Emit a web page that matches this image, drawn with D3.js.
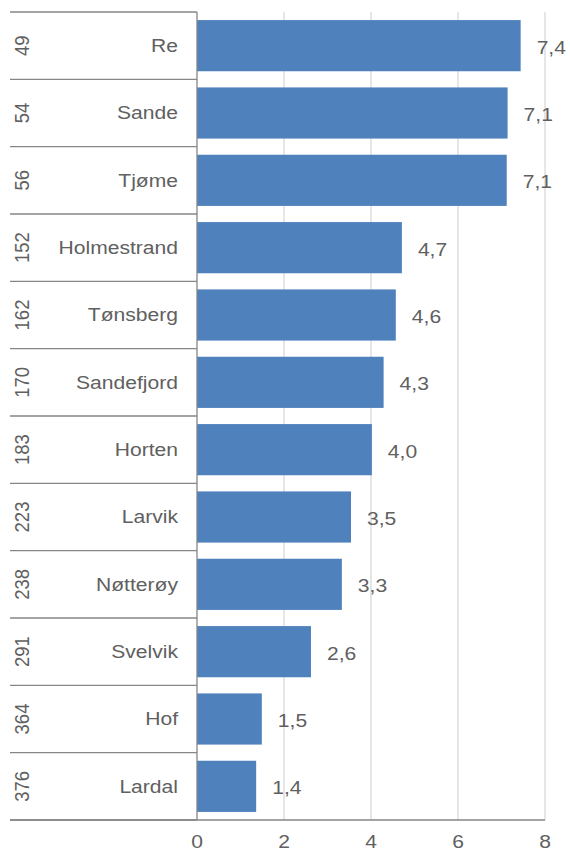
<!DOCTYPE html>
<html><head><meta charset="utf-8">
<script src="https://cdn.jsdelivr.net/npm/d3@7"></script>
<style>body{margin:0;background:#fff}svg{display:block;font-family:"Liberation Sans",Arial,sans-serif}</style>
</head><body>
<script>
const categories = ["Re","Sande","Tjøme","Holmestrand","Tønsberg","Sandefjord","Horten","Larvik","Nøtterøy","Svelvik","Hof","Lardal"];
const ranks = ["49","54","56","152","162","170","183","223","238","291","364","376"];
const values = [7.44,7.14,7.12,4.71,4.57,4.29,4.02,3.54,3.33,2.62,1.49,1.36];
const xTicks = [0,2,4,6,8];

(function(){
const W=570,H=852;
const svg=d3.select("body").append("svg").attr("width",W).attr("height",H);
const mLeft=197, mRight=545, mTop=12, mBottom=820, outerLeft=10;
const sx=1.14, fs=18.5, col="#606060";
const x=d3.scaleLinear().domain([0,8]).range([mLeft,mRight]);
const y=d3.scaleBand().domain(categories).range([mTop,mBottom]).paddingInner(0.24).paddingOuter(0.12);
const step=(mBottom-mTop)/categories.length;

svg.append("g").selectAll("line").data(xTicks.slice(1)).join("line")
 .attr("x1",d=>x(d)).attr("x2",d=>x(d)).attr("y1",mTop).attr("y2",mBottom)
 .attr("stroke","#d9d9d9").attr("stroke-width",1.3);

svg.append("g").selectAll("rect").data(values).join("rect")
 .attr("x",x(0)).attr("y",(d,i)=>y(categories[i])).attr("width",d=>x(d)-x(0)).attr("height",y.bandwidth())
 .attr("fill","#4f81bd");

svg.append("g").selectAll("line").data(d3.range(categories.length+1)).join("line")
 .attr("x1",outerLeft).attr("x2",mLeft).attr("y1",i=>mTop+i*step).attr("y2",i=>mTop+i*step)
 .attr("stroke","#868686").attr("stroke-width",1.3);

svg.append("line").attr("x1",mLeft).attr("x2",mLeft).attr("y1",mTop).attr("y2",mBottom).attr("stroke","#868686").attr("stroke-width",1.3);
svg.append("line").attr("x1",outerLeft).attr("x2",mRight).attr("y1",mBottom).attr("y2",mBottom).attr("stroke","#868686").attr("stroke-width",1.3);

svg.append("g").selectAll("text").data(categories).join("text")
 .attr("transform",d=>`translate(178,${y(d)+y.bandwidth()/2}) scale(${sx},1)`)
 .attr("dy","0.35em").attr("text-anchor","end")
 .attr("font-size",fs).attr("fill",col).text(d=>d);

svg.append("g").selectAll("text").data(ranks).join("text")
 .attr("transform",(d,i)=>`translate(22,${y(categories[i])+y.bandwidth()/2}) scale(${sx},1) rotate(-90)`)
 .attr("dy","0.35em").attr("text-anchor","middle")
 .attr("font-size",fs).attr("fill",col).text(d=>d);

const fmt=d=>d3.format(".1f")(d).replace(".",",");
svg.append("g").selectAll("text").data(values).join("text")
 .attr("transform",(d,i)=>`translate(${x(d)+16},${y(categories[i])+y.bandwidth()/2+1.5}) scale(${sx},1)`)
 .attr("dy","0.35em")
 .attr("font-size",fs).attr("fill",col).text(fmt);

svg.append("g").selectAll("text").data(xTicks).join("text")
 .attr("transform",d=>`translate(${x(d)},842) scale(${sx},1)`)
 .attr("dy","0.35em").attr("text-anchor","middle")
 .attr("font-size",fs).attr("fill",col).text(d=>d);
})();
</script>
</body></html>
